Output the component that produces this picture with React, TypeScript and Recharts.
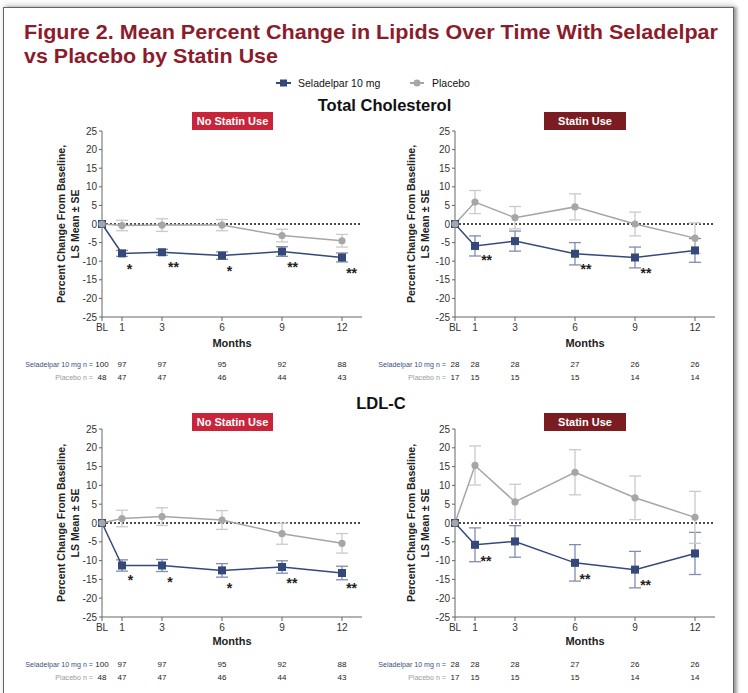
import React from 'react';
import { ComposedChart, Line, XAxis, YAxis, ErrorBar, Scatter, ReferenceLine } from 'recharts';

const FONT = '"Liberation Sans", Arial, sans-serif';
const SEL = '#34497A';
const SEL_ERR = '#7F8DAE';
const PLA = '#A6A6A6';
const PLA_ERR = '#CACACA';

const months = [0, 1, 3, 6, 9, 12];
const monthLabels = ['BL', '1', '3', '6', '9', '12'];
const yTicks = [-25, -20, -15, -10, -5, 0, 5, 10, 15, 20, 25];

// Total cholesterol, no statin
const tcNoSel = [0, -7.9, -7.6, -8.5, -7.4, -9.0];
const tcNoSelSE = [0, 0.8, 0.8, 1.0, 1.3, 1.2];
const tcNoPla = [0, -0.4, -0.3, -0.3, -3.1, -4.5];
const tcNoPlaSE = [0, 1.4, 1.7, 1.5, 1.7, 1.7];
// Total cholesterol, statin
const tcStSel = [0, -5.9, -4.6, -8.0, -9.0, -7.1];
const tcStSelSE = [0, 2.7, 2.7, 3.0, 2.8, 3.2];
const tcStPla = [0, 5.9, 1.7, 4.6, 0, -3.8];
const tcStPlaSE = [0, 3.1, 3.0, 3.5, 3.2, 4.1];
// LDL-C, no statin
const ldlNoSel = [0, -11.3, -11.3, -12.6, -11.7, -13.3];
const ldlNoSelSE = [0, 1.5, 1.6, 1.8, 1.65, 1.8];
const ldlNoPla = [0, 1.2, 1.7, 0.8, -2.85, -5.4];
const ldlNoPlaSE = [0, 2.2, 2.35, 2.5, 2.8, 2.6];
// LDL-C, statin
const ldlStSel = [0, -5.8, -4.9, -10.6, -12.4, -8.1];
const ldlStSelSE = [0, 4.5, 4.2, 4.85, 4.85, 5.6];
const ldlStPla = [0, 15.3, 5.6, 13.5, 6.7, 1.5];
const ldlStPlaSE = [0, 5.2, 4.7, 6.0, 5.8, 6.9];

// patients at each visit
const nNoSel = [100, 97, 97, 95, 92, 88];
const nNoPla = [48, 47, 47, 46, 44, 43];
const nStSel = [28, 28, 28, 27, 26, 26];
const nStPla = [17, 15, 15, 15, 14, 14];

// significance markers (month, y position)
const tcNoStars = [
  { month: 1.37, y: -11.2, t: '*' },
  { month: 3.57, y: -10.7, t: '**' },
  { month: 6.37, y: -11.9, t: '*' },
  { month: 9.53, y: -10.7, t: '**' },
  { month: 12.48, y: -12.3, t: '**' },
];
const tcStStars = [
  { month: 1.58, y: -9.0, t: '**' },
  { month: 6.55, y: -11.4, t: '**' },
  { month: 9.55, y: -12.3, t: '**' },
];
const ldlNoStars = [
  { month: 1.43, y: -14.4, t: '*' },
  { month: 3.4, y: -14.8, t: '*' },
  { month: 6.37, y: -16.4, t: '*' },
  { month: 9.5, y: -15.2, t: '**' },
  { month: 12.48, y: -16.5, t: '**' },
];
const ldlStStars = [
  { month: 1.55, y: -9.2, t: '**' },
  { month: 6.5, y: -14.1, t: '**' },
  { month: 9.53, y: -15.8, t: '**' },
];

const buildRows = (sel, selSE, pla, plaSE) =>
  months.map((m, i) => ({ month: m, sel: sel[i], selSE: selSE[i], pla: pla[i], plaSE: plaSE[i] }));

const ML = 80;
const MT = 10;
const W = 350;
const XH = 35;
const NH = 13;

const Panel = ({ px, py, h, rows, stars, nSel, nPla, yl, monthsOff, selGap, plaGap }) => {
  const height = MT + h + XH + NH * 2 + 4;
  const nLabel = (text, color, gap) => (props) => {
    const vb = props.viewBox;
    return (
      <text x={vb.x - gap} y={vb.y + 15} textAnchor="end" fontSize={7.1} fill={color} fontFamily={FONT}>
        {text}
      </text>
    );
  };
  const yLabel = (props) => {
    const vb = props.viewBox;
    const right = vb.x + vb.width;
    const cy = vb.y + vb.height / 2;
    return (
      <g fontFamily={FONT} fontSize={10.5} fontWeight="bold" fill="#222" textAnchor="middle">
        <text x={right + yl[0]} y={cy} dominantBaseline="central" transform={`rotate(-90, ${right + yl[0]}, ${cy})`}>
          Percent Change From Baseline,
        </text>
        <text x={right + yl[1]} y={cy} dominantBaseline="central" transform={`rotate(-90, ${right + yl[1]}, ${cy})`}>
          LS Mean ± SE
        </text>
      </g>
    );
  };
  return (
    <div style={{ position: 'absolute', left: px - ML, top: py - MT }}>
      <ComposedChart width={W} height={height} data={rows} margin={{ top: MT, right: 10, bottom: 4, left: 0 }} style={{ fontFamily: FONT }}>
        <XAxis
          dataKey="month"
          type="number"
          domain={[0, 13]}
          ticks={months}
          interval={0}
          tickFormatter={(v) => monthLabels[months.indexOf(v)]}
          height={XH}
          tickSize={4}
          tickMargin={3}
          stroke="#666"
          tick={{ fontSize: 10, fill: '#333' }}
          label={{ value: 'Months', position: 'insideBottom', offset: monthsOff, fontSize: 11, fontWeight: 'bold', fill: '#222' }}
        />
        <XAxis
          xAxisId="n1"
          dataKey="month"
          type="number"
          domain={[0, 13]}
          ticks={months}
          interval={0}
          tickFormatter={(v) => String(nSel[months.indexOf(v)])}
          height={NH}
          tickSize={0}
          tickMargin={9}
          axisLine={false}
          tickLine={false}
          tick={{ fontSize: 8, fill: '#222' }}
          label={nLabel('Seladelpar 10 mg n =', '#3B4F80', selGap)}
        />
        <XAxis
          xAxisId="n2"
          dataKey="month"
          type="number"
          domain={[0, 13]}
          ticks={months}
          interval={0}
          tickFormatter={(v) => String(nPla[months.indexOf(v)])}
          height={NH}
          tickSize={0}
          tickMargin={9}
          axisLine={false}
          tickLine={false}
          tick={{ fontSize: 8, fill: '#222' }}
          label={nLabel('Placebo n =', '#9A9A9A', plaGap)}
        />
        <YAxis
          type="number"
          domain={[-25, 25]}
          ticks={yTicks}
          interval={0}
          width={ML}
          tickSize={3}
          tickMargin={2}
          stroke="#666"
          tick={{ fontSize: 10, fill: '#333' }}
          label={yLabel}
        />
        <ReferenceLine y={0} stroke="#111" strokeDasharray="2 2" strokeWidth={1.6} />
        <Line
          dataKey="sel"
          type="linear"
          stroke={SEL}
          strokeWidth={1.5}
          isAnimationActive={false}
          activeDot={false}
          dot={(p) => <rect key={`s${p.index}`} x={p.cx - 4} y={p.cy - 4} width={8} height={8} fill={SEL} />}
        >
          <ErrorBar dataKey="selSE" width={6} stroke={SEL_ERR} strokeWidth={1.3} direction="y" />
        </Line>
        <Line
          dataKey="pla"
          type="linear"
          stroke={PLA}
          strokeWidth={1.5}
          isAnimationActive={false}
          activeDot={false}
          dot={{ r: 3.6, fill: PLA, stroke: PLA, strokeWidth: 0 }}
        >
          <ErrorBar dataKey="plaSE" width={6} stroke={PLA_ERR} strokeWidth={1.3} direction="y" />
        </Line>
        <Scatter
          data={stars}
          dataKey="y"
          isAnimationActive={false}
          shape={(p) => (
            <text x={p.cx} y={p.cy + 8} textAnchor="middle" fontSize={14} fontWeight="bold" fill="#222" fontFamily={FONT}>
              {p.payload.t}
            </text>
          )}
        />
      </ComposedChart>
    </div>
  );
};

const Badge = ({ x, y, w, fill, text }) => (
  <g>
    <rect x={x} y={y} width={w} height={18} fill={fill} />
    <text x={x + w / 2} y={y + 13.2} textAnchor="middle" fontSize={11} fontWeight="bold" fill="#fff">
      {text}
    </text>
  </g>
);

export default function App() {
  return (
    <div style={{ position: 'absolute', left: 0, top: 0, width: 748, height: 693, background: '#fff', overflow: 'hidden', fontFamily: FONT }}>
      <div
        style={{
          position: 'absolute',
          left: 3,
          top: 7,
          width: 729,
          height: 720,
          border: '1.5px solid #666',
          boxShadow: '3px 0 3px rgba(0,0,0,0.35), 0 -3px 6px rgba(0,0,0,0.12)',
        }}
      />
      <svg width={748} height={693} style={{ position: 'absolute', left: 0, top: 0 }} fontFamily={FONT}>
        <text x={24} y={39} fontSize={21} fontWeight="bold" fill="#8B1C2C" textLength={694} lengthAdjust="spacingAndGlyphs">
          Figure 2. Mean Percent Change in Lipids Over Time With Seladelpar
        </text>
        <text x={24} y={63} fontSize={21} fontWeight="bold" fill="#8B1C2C" textLength={254} lengthAdjust="spacingAndGlyphs">
          vs Placebo by Statin Use
        </text>

        <line x1={276} x2={291} y1={83} y2={83} stroke={SEL} strokeWidth={2} />
        <rect x={280} y={79.5} width={7} height={7} fill={SEL} />
        <text x={298} y={86.8} fontSize={10.5} fill="#111">Seladelpar 10 mg</text>
        <line x1={410} x2={424} y1={83} y2={83} stroke={PLA} strokeWidth={2} />
        <circle cx={417} cy={83} r={3.5} fill={PLA} />
        <text x={432} y={86.8} fontSize={10.5} fill="#111">Placebo</text>

        <text x={384.5} y={110.5} fontSize={16.5} fontWeight="bold" textAnchor="middle" fill="#111">Total Cholesterol</text>
        <text x={381} y={409} fontSize={16.5} fontWeight="bold" textAnchor="middle" fill="#111">LDL-C</text>

        <Badge x={192} y={112} w={81} fill="#C8253B" text="No Statin Use" />
        <Badge x={544} y={112} w={82} fill="#7B1C22" text="Statin Use" />
        <Badge x={192} y={413} w={81} fill="#C8253B" text="No Statin Use" />
        <Badge x={544} y={413} w={82} fill="#7B1C22" text="Statin Use" />
      </svg>

      <Panel px={101.5} py={131} h={186} rows={buildRows(tcNoSel, tcNoSelSE, tcNoPla, tcNoPlaSE)} stars={tcNoStars}
        nSel={nNoSel} nPla={nNoPla} yl={[-41, -27.5]} monthsOff={5} selGap={9} plaGap={9} />
      <Panel px={455} py={131} h={186} rows={buildRows(tcStSel, tcStSelSE, tcStPla, tcStPlaSE)} stars={tcStStars}
        nSel={nStSel} nPla={nStPla} yl={[-44.5, -30.5]} monthsOff={5} selGap={9} plaGap={9} />
      <Panel px={101.5} py={429} h={188} rows={buildRows(ldlNoSel, ldlNoSelSE, ldlNoPla, ldlNoPlaSE)} stars={ldlNoStars}
        nSel={nNoSel} nPla={nNoPla} yl={[-41, -27.5]} monthsOff={7} selGap={9} plaGap={9} />
      <Panel px={455} py={429} h={188} rows={buildRows(ldlStSel, ldlStSelSE, ldlStPla, ldlStPlaSE)} stars={ldlStStars}
        nSel={nStSel} nPla={nStPla} yl={[-44.5, -30.5]} monthsOff={7} selGap={9} plaGap={9} />
    </div>
  );
}
